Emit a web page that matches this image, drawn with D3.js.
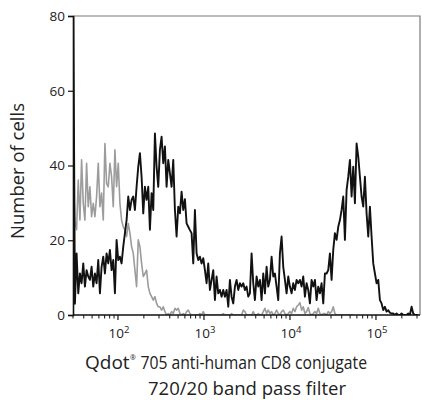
<!DOCTYPE html>
<html>
<head>
<meta charset="utf-8">
<script src="https://cdn.jsdelivr.net/npm/d3@7"></script>
<style>
  html, body { margin: 0; padding: 0; background: #fff; }
  svg { display: block; }
  text { font-family: "Open Sans", "DejaVu Sans", sans-serif; fill: #222; }
</style>
</head>
<body>
<svg id="chart" width="422" height="400"></svg>
<script>
// ---- Data (histogram bins evenly spaced in log10 fluorescence) ----
const binLogStart = 1.48;
const binLogStep = 0.01938;

// Stained sample (black) counts per bin
const stainedCounts = [
  85, 3, 16.5, 5.8, 11.1, 8.5, 13.8, 7.6, 12.0, 10.3,
  9.4, 12.9, 7.6, 11.1, 8.5, 14.7, 5.8, 12.9, 15.6, 11.1,
  16.5, 13.8, 17.4, 12.0, 14.7, 5.8, 20.1, 14.7, 15.6, 13.8,
  18.3, 21.9, 25.4, 31.7, 28.1, 30.8, 31.7, 28.1, 34.3, 39.7,
  43.3, 37.0, 27.2, 34.3, 30.8, 34.3, 22.8, 32.6, 28.1, 48.6,
  39.7, 34.3, 44.2, 47.7, 40.6, 45.1, 34.3, 41.5, 37.9, 34.3,
  41.5, 28.1, 21.0, 29.0, 27.2, 33.0, 28.1, 31.0, 24.5, 23.6,
  22.7, 21.9, 13.8, 28.1, 16.5, 14.7, 15.6, 13.8, 15.2, 12.0,
  8.5, 13.8, 6.7, 9.4, 12.0, 4.0, 10.3, 5.8, 6.7, 4.9,
  6.7, 4.9, 6.7, 2.2, 9.4, 4.9, 3.1, 7.6, 9.4, 6.7,
  8.5, 7.6, 8.5, 6.7, 7.6, 4.9, 5.8, 16.5, 8.5, 4.0,
  10.3, 7.6, 9.4, 4.0, 11.1, 5.8, 12.9, 7.6, 9.4, 15.6,
  10.3, 11.1, 7.6, 4.0, 16.5, 21.0, 12.9, 9.4, 5.8, 10.3,
  7.6, 5.8, 8.5, 6.7, 9.4, 8.5, 9.4, 7.6, 10.3, 4.9,
  8.5, 6.7, 3.1, 9.4, 7.6, 9.4, 4.0, 7.6, 5.8, 8.5,
  3.1, 11.1, 11.1, 12.0, 16.5, 9.4, 17.4, 21.9, 20.1, 23.6,
  25.4, 28.1, 31.7, 20.1, 33.4, 37.0, 41.5, 31.7, 39.7, 29.9,
  45.9, 42.4, 37.0, 31.7, 29.0, 37.0, 27.2, 21.0, 29.0, 21.0,
  13.8, 11.1, 8.5, 9.4, 4.0, 3.1, 1.3, 2.2, 0.9, 1.3,
  0.6, 0.4, 0.4, 0, 0.4, 0, 0, 0.4, 0, 0,
  0, 0.4, 0, 2.2, 0.4, 0, 0, 0
];

// Unstained control (gray) counts per bin
const controlCounts = [
  39, 25, 22.8, 36.1, 25.4, 41.5, 29.9, 25.4, 40.6, 29.0,
  34.3, 26.3, 29.9, 26.3, 31.7, 40.6, 29.0, 32.6, 25.4, 45.9,
  35.2, 34.3, 40.6, 37.0, 29.0, 44.2, 34.3, 40.6, 29.9, 25.4,
  23.6, 22.8, 21.0, 24.5, 21.9, 18.3, 16.5, 12.0, 7.6, 20.1,
  18.3, 13.8, 10.3, 11.1, 12.0, 7.6, 5.8, 4.9, 4.0, 4.9,
  3.1, 2.2, 2.2, 1.3, 2.2, 0.9, 0, 0.4, 0, 0.9,
  0.4, 1.8, 1.3, 1.8, 0.4, 0, 0.4, 0, 0.9, 1.3,
  0.4, 0, 0, 0, 0, 0, 0.4, 0, 0.9, 0,
  0, 0, 0, 0, 0, 0, 0, 0, 0, 0,
  0.4, 0, 0, 0, 0, 0.4, 0, 0, 0, 0,
  0, 0, 1.3, 0.9, 0, 0, 0, 0, 0.9, 0,
  0, 0.4, 0, 0, 0.9, 1.8, 0.4, 1.3, 0.4, 0.9,
  0, 0.4, 1.3, 0.4, 0, 0.9, 1.3, 0.4, 0, 0.4,
  0.9, 0.4, 1.8, 0.9, 2.2, 2.7, 3.3, 1.3, 2.2, 0.4,
  0.9, 2.0, 0.4, 0, 0.4, 0.9, 0.4, 1.8, 0.4, 0,
  0.4, 0.4, 0, 0.9, 0.4, 0.9, 2.2, 0.4, 0, 0,
  0, 0, 0, 0, 0, 0, 0, 0, 0
];

const yTicks = [0, 20, 40, 60, 80];
const xMajorExponents = [2, 3, 4, 5];
const xDomainLog = [1.477, 5.512];
const yDomain = [0, 80];
const yTitle = "Number of cells";
const xTitleLine1 = ["Qdot", "®", "705 anti-human CD8 conjugate"];
const xTitleLine2 = "720/20 band pass filter";

// ---- Layout ----
const pL = 73, pR = 420, pT = 16, pB = 315;
const svg = d3.select("#chart");

const x = d3.scaleLog()
  .domain(xDomainLog.map(v => Math.pow(10, v)))
  .range([pL, pR]);
const y = d3.scaleLinear().domain(yDomain).range([pB, pT]);

const toPoints = counts => counts.map((c, i) => ({
  v: Math.pow(10, binLogStart + i * binLogStep),
  c
}));

svg.append("defs").append("clipPath").attr("id", "plotclip")
  .append("rect").attr("x", pL).attr("y", pT)
  .attr("width", pR - pL).attr("height", pB - pT);

const line = d3.line().x(d => x(d.v)).y(d => y(d.c));

const plot = svg.append("g").attr("clip-path", "url(#plotclip)");
plot.append("path")
  .datum(toPoints(controlCounts))
  .attr("d", line)
  .attr("fill", "none")
  .attr("stroke", "#9c9c9c")
  .attr("stroke-width", 1.6)
  .attr("stroke-linejoin", "round");
plot.append("path")
  .datum(toPoints(stainedCounts))
  .attr("d", line)
  .attr("fill", "none")
  .attr("stroke", "#111")
  .attr("stroke-width", 1.9)
  .attr("stroke-linejoin", "round");

// frame: top & right (gray)
svg.append("path")
  .attr("d", `M${pL},${pT}H${pR}V${pB}`)
  .attr("fill", "none").attr("stroke", "#7a7a7a").attr("stroke-width", 1.2);

// Y axis
const yAxis = d3.axisLeft(y).tickValues(yTicks).tickSize(5).tickPadding(3);
const gy = svg.append("g").attr("transform", `translate(${pL},0)`).call(yAxis);
gy.select(".domain").attr("stroke", "#111").attr("stroke-width", 1.6);
gy.selectAll(".tick line").attr("stroke", "#111").attr("stroke-width", 1.2);
gy.selectAll(".tick text")
  .style("font-family", '"Open Sans", sans-serif')
  .style("font-size", "13.5px").attr("fill", "#222");

// X axis: minor ticks
const minorVals = [];
for (let e = 1; e <= 5; e++) for (let m = 2; m <= 9; m++) {
  const v = m * Math.pow(10, e);
  if (v >= x.domain()[0] && v <= x.domain()[1]) minorVals.push(v);
}
const majorVals = xMajorExponents.map(e => Math.pow(10, e));
const gx = svg.append("g").attr("transform", `translate(0,${pB})`);
gx.append("line").attr("x1", pL).attr("x2", pR)
  .attr("stroke", "#111").attr("stroke-width", 1.6);
gx.selectAll(".minor").data(minorVals).enter().append("line")
  .attr("x1", d => x(d)).attr("x2", d => x(d))
  .attr("y1", 0).attr("y2", 3.5)
  .attr("stroke", "#111").attr("stroke-width", 1);
gx.selectAll(".major").data(majorVals).enter().append("line")
  .attr("x1", d => x(d)).attr("x2", d => x(d))
  .attr("y1", 0).attr("y2", 5)
  .attr("stroke", "#111").attr("stroke-width", 1.2);
const lbl = gx.selectAll(".lbl").data(xMajorExponents).enter().append("text")
  .attr("x", d => x(Math.pow(10, d)) + 1)
  .attr("y", 23)
  .attr("text-anchor", "middle")
  .style("font-size", "13.5px");
lbl.append("tspan").text("10");
lbl.append("tspan").attr("dy", -5).style("font-size", "9.5px").text(d => d);

// Y title
svg.append("text")
  .attr("transform", "translate(24,171) rotate(-90)")
  .attr("text-anchor", "middle")
  .attr("textLength", 136).attr("lengthAdjust", "spacingAndGlyphs")
  .style("font-size", "18px")
  .text(yTitle);

// X title, line 1 (three pieces so the registered mark sits beside "Qdot")
const fs1 = 19;
const a = svg.append("text").attr("x", 85).attr("y", 369)
  .style("font-size", fs1 + "px").text(xTitleLine1[0]);
const aW = a.node().getComputedTextLength();
const b = svg.append("text").attr("x", 85 + aW + 0.5).attr("y", 360)
  .style("font-size", "7px").text(xTitleLine1[1]);
const bW = b.node().getComputedTextLength();
const cStart = 85 + aW + bW + 5;
svg.append("text").attr("x", cStart).attr("y", 369)
  .attr("textLength", 367 - cStart).attr("lengthAdjust", "spacingAndGlyphs")
  .style("font-size", fs1 + "px").text(xTitleLine1[2]);

svg.append("text")
  .attr("x", 148).attr("y", 395)
  .attr("textLength", 198).attr("lengthAdjust", "spacingAndGlyphs")
  .style("font-size", fs1 + "px")
  .text(xTitleLine2);
</script>
</body>
</html>
